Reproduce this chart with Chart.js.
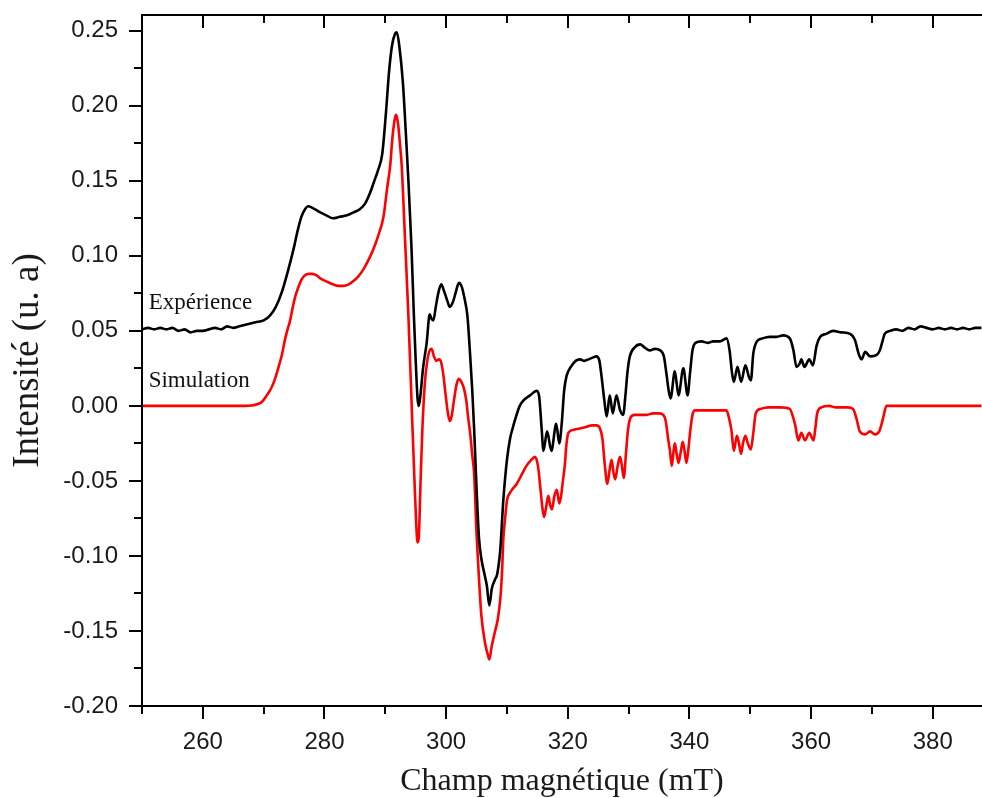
<!DOCTYPE html>
<html><head><meta charset="utf-8">
<script src="https://cdn.jsdelivr.net/npm/chart.js@4.4.0/dist/chart.umd.min.js"></script>
<style>html,body{margin:0;padding:0;background:#fff;overflow:hidden}canvas{display:block}</style>
</head><body>
<canvas id="c" width="982" height="798" style="width:982px;height:798px"></canvas>
<script>
// ---- Data ----
const expField = [250.0,251.0,252.0,253.0,254.0,255.0,256.0,257.0,258.0,259.0,260.0,261.0,262.0,263.0,264.0,265.0,266.0,267.0,268.0,269.0,270.0,271.0,272.0,273.0,274.0,275.0,275.6,276.2,276.8,277.3,278.0,279.3,280.3,281.4,282.5,283.7,284.8,285.8,286.7,287.5,288.2,288.8,289.5,290.1,290.6,291.1,291.6,291.9,292.3,292.9,293.4,293.8,294.3,294.7,295.0,295.3,295.5,295.8,296.2,296.8,297.3,297.6,297.9,298.3,298.7,299.2,299.7,300.2,300.6,301.1,301.6,302.1,302.6,303.0,303.5,303.9,304.3,304.6,305.0,305.4,305.8,306.3,306.7,307.1,307.5,308.0,308.4,308.9,309.4,310.0,310.5,311.0,311.5,312.1,312.8,313.8,314.9,315.3,315.7,316.0,316.6,317.3,318.1,318.6,319.0,319.4,319.8,320.5,321.3,322.0,322.7,323.4,324.0,324.7,325.2,325.6,326.0,326.4,326.9,327.4,328.0,328.6,329.1,329.5,329.8,330.2,331.0,331.9,332.6,333.5,334.3,335.2,335.8,336.2,336.6,336.9,337.6,338.2,339.0,339.7,340.1,340.5,341.0,342.0,343.0,343.9,345.0,346.1,346.6,347.0,347.3,347.9,348.5,349.2,349.8,350.1,350.5,351.1,352.0,353.2,354.3,355.4,356.5,357.1,357.6,358.1,358.4,358.9,359.7,360.3,360.9,361.5,362.5,363.6,365.0,366.4,367.2,367.8,368.3,368.9,369.7,370.8,371.3,371.8,372.1,373.0,374.0,375.0,376.0,377.0,378.0,379.0,380.0,381.0,382.0,383.0,384.0,385.0,386.0,387.0,388.0];
const expIntensity = [0.051,0.052,0.051,0.052,0.051,0.052,0.050,0.051,0.049,0.050,0.050,0.051,0.052,0.051,0.053,0.052,0.053,0.054,0.055,0.056,0.057,0.060,0.066,0.076,0.090,0.106,0.117,0.126,0.131,0.133,0.132,0.129,0.127,0.125,0.126,0.127,0.129,0.131,0.135,0.142,0.150,0.157,0.168,0.195,0.222,0.240,0.248,0.249,0.240,0.215,0.180,0.150,0.106,0.060,0.030,0.005,0.000,0.008,0.025,0.042,0.061,0.058,0.057,0.066,0.075,0.081,0.076,0.070,0.066,0.069,0.076,0.082,0.079,0.072,0.060,0.037,0.010,-0.015,-0.055,-0.088,-0.102,-0.112,-0.120,-0.133,-0.122,-0.116,-0.112,-0.096,-0.063,-0.036,-0.022,-0.014,-0.007,0.000,0.004,0.007,0.010,0.006,-0.015,-0.030,-0.017,-0.030,-0.012,-0.025,-0.012,0.010,0.020,0.026,0.030,0.031,0.030,0.031,0.032,0.033,0.030,0.018,0.004,-0.007,0.007,-0.005,0.007,-0.003,-0.006,0.008,0.022,0.033,0.039,0.041,0.039,0.037,0.038,0.037,0.033,0.022,0.010,0.005,0.023,0.007,0.025,0.007,0.022,0.037,0.042,0.043,0.042,0.043,0.043,0.045,0.037,0.022,0.016,0.026,0.016,0.027,0.019,0.017,0.035,0.043,0.045,0.046,0.046,0.047,0.045,0.037,0.026,0.028,0.031,0.026,0.031,0.027,0.040,0.046,0.048,0.050,0.049,0.048,0.044,0.035,0.031,0.036,0.033,0.034,0.037,0.044,0.048,0.050,0.051,0.050,0.052,0.051,0.053,0.052,0.051,0.052,0.051,0.052,0.051,0.052,0.051,0.052,0.052];

const simField = [250,252,254,256,258,260,262,264,266,267,268,268.8,269.5,270.0,270.5,271.0,271.6,272.1,272.6,273.0,273.5,274.0,274.3,274.8,275.2,275.7,276.2,276.8,277.4,278.0,278.7,279.3,280.3,281.4,282.3,283.1,284.0,284.7,285.5,286.4,287.2,288.0,288.8,289.7,290.3,290.8,291.2,291.6,291.8,292.1,292.4,292.7,293.2,293.8,294.4,294.8,295.1,295.3,295.5,295.8,296.1,296.5,296.9,297.3,297.6,298.0,298.4,298.8,299.1,299.5,299.9,300.3,300.6,300.9,301.3,301.7,302.1,302.5,302.9,303.3,303.6,304.0,304.3,304.6,305.0,305.4,305.8,306.4,307.0,307.1,307.5,308.0,308.5,308.9,309.2,309.4,309.7,310.0,310.5,311.0,311.6,312.4,313.2,314.0,314.6,315.1,315.5,315.8,316.1,316.5,316.8,317.1,317.4,317.8,318.2,318.6,318.9,319.2,319.5,319.8,320.1,320.9,322.0,323.0,324.0,324.7,325.3,325.7,326.1,326.5,326.9,327.2,327.5,327.8,328.2,328.6,328.9,329.2,329.6,329.9,330.3,331.0,331.9,333.0,334.0,335.0,335.7,336.1,336.5,336.8,337.1,337.4,337.6,337.9,338.2,338.6,338.9,339.2,339.5,339.8,340.1,340.5,340.9,342.0,343.0,344.0,345.0,346.1,346.5,346.9,347.3,347.8,348.1,348.5,348.8,349.2,349.6,350.1,350.5,350.9,351.7,353.0,354.0,355.0,356.5,357.0,357.4,357.9,358.4,359.0,359.7,360.4,360.7,361.0,361.7,363.0,364.0,365.0,366.0,366.9,367.5,368.0,368.9,369.7,370.5,371.2,371.6,371.9,372.4,374,376,378,380,382,384,386,388];
const simIntensity = [0,0,0,0,0,0,0,0,0,0,0.0003,0.001,0.002,0.004,0.007,0.010,0.015,0.021,0.028,0.034,0.044,0.052,0.056,0.066,0.073,0.079,0.084,0.087,0.088,0.088,0.087,0.085,0.083,0.081,0.080,0.080,0.081,0.083,0.086,0.091,0.097,0.104,0.113,0.126,0.145,0.160,0.180,0.192,0.194,0.188,0.175,0.160,0.115,0.060,-0.007,-0.050,-0.080,-0.091,-0.088,-0.050,-0.015,0.015,0.030,0.037,0.038,0.033,0.030,0.031,0.030,0.022,0.008,-0.005,-0.010,-0.007,0.004,0.014,0.018,0.016,0.012,0.004,-0.007,-0.020,-0.033,-0.045,-0.085,-0.115,-0.140,-0.158,-0.168,-0.169,-0.160,-0.151,-0.142,-0.129,-0.110,-0.089,-0.075,-0.063,-0.058,-0.055,-0.052,-0.046,-0.040,-0.036,-0.034,-0.040,-0.055,-0.067,-0.074,-0.066,-0.060,-0.066,-0.069,-0.060,-0.056,-0.065,-0.060,-0.050,-0.040,-0.025,-0.018,-0.016,-0.015,-0.014,-0.013,-0.013,-0.015,-0.022,-0.040,-0.052,-0.042,-0.036,-0.044,-0.049,-0.040,-0.034,-0.040,-0.048,-0.030,-0.016,-0.008,-0.006,-0.006,-0.006,-0.005,-0.005,-0.006,-0.010,-0.022,-0.030,-0.040,-0.030,-0.025,-0.032,-0.038,-0.030,-0.024,-0.030,-0.038,-0.030,-0.018,-0.006,-0.003,-0.003,-0.003,-0.003,-0.003,-0.003,-0.008,-0.016,-0.030,-0.020,-0.024,-0.032,-0.025,-0.020,-0.025,-0.029,-0.018,-0.005,-0.002,-0.001,-0.001,-0.001,-0.002,-0.007,-0.013,-0.023,-0.018,-0.023,-0.018,-0.023,-0.015,-0.005,-0.001,0.000,-0.001,-0.001,-0.001,-0.002,-0.009,-0.017,-0.019,-0.017,-0.019,-0.017,-0.012,-0.007,0.000,0,0,0,0,0,0,0,0];

const xTickValues = [260,280,300,320,340,360,380];
const yTickValues = [-0.20,-0.15,-0.10,-0.05,0.00,0.05,0.10,0.15,0.20,0.25];
const seriesNames = ['Expérience','Simulation'];
const seriesColors = ['#000000','#ff0000'];
const labelAnchorField = [251.1, 251.1];
const labelAnchorIntensity = [0.0645, 0.0127];
const xTitle = 'Champ magnétique (mT)';
const yTitle = 'Intensité (u. a)';

const toPoints = (xs, ys) => xs.map((x, i) => ({x: x, y: ys[i]}));

const frame = {
  id: 'frame',
  afterDraw(chart) {
    const ctx = chart.ctx, a = chart.chartArea;
    const xs = chart.scales.x, ys = chart.scales.y;
    ctx.save();
    ctx.strokeStyle = '#000';
    ctx.lineWidth = 2;
    ctx.lineCap = 'butt';
    ctx.beginPath();
    ctx.moveTo(a.left, a.top); ctx.lineTo(a.left, a.bottom + 1);
    ctx.moveTo(a.left - 1, a.bottom); ctx.lineTo(a.right, a.bottom);
    ctx.moveTo(a.left - 1, a.top); ctx.lineTo(a.right, a.top);
    ctx.stroke();
    const xMinor = [];
    for (let i = 0; i < xTickValues.length; i++) xMinor.push(xTickValues[i] - 10);
    xMinor.push(xTickValues[xTickValues.length - 1] + 10);
    ctx.beginPath();
    xTickValues.forEach(v => {
      const p = Math.round(xs.getPixelForValue(v));
      ctx.moveTo(p, a.bottom); ctx.lineTo(p, a.bottom + 13);
      ctx.moveTo(p, a.top); ctx.lineTo(p, a.top + 13);
    });
    xMinor.forEach(v => {
      if (v < xs.min || v > xs.max) return;
      const p = Math.round(xs.getPixelForValue(v));
      ctx.moveTo(p, a.bottom); ctx.lineTo(p, a.bottom + 8);
      ctx.moveTo(p, a.top); ctx.lineTo(p, a.top + 8);
    });
    yTickValues.forEach(v => {
      const p = Math.round(ys.getPixelForValue(v));
      ctx.moveTo(a.left, p); ctx.lineTo(a.left - 13, p);
    });
    for (let i = 0; i < yTickValues.length; i++) {
      const v = yTickValues[i] + 0.025;
      if (v > ys.max) continue;
      const p = Math.round(ys.getPixelForValue(v));
      ctx.moveTo(a.left, p); ctx.lineTo(a.left - 8, p);
    }
    ctx.stroke();
    ctx.fillStyle = '#111';
    ctx.font = '23px "Liberation Serif", "Times New Roman", serif';
    ctx.textAlign = 'left';
    ctx.textBaseline = 'alphabetic';
    seriesNames.forEach((n, i) => {
      ctx.fillText(n, xs.getPixelForValue(labelAnchorField[i]), ys.getPixelForValue(labelAnchorIntensity[i]));
    });
    ctx.restore();
  }
};

new Chart(document.getElementById('c'), {
  type: 'line',
  data: {
    datasets: [
      {label: seriesNames[0], data: toPoints(expField, expIntensity), borderColor: seriesColors[0], borderWidth: 2.6, pointRadius: 0, cubicInterpolationMode: 'monotone', fill: false},
      {label: seriesNames[1], data: toPoints(simField, simIntensity), borderColor: seriesColors[1], borderWidth: 2.6, pointRadius: 0, cubicInterpolationMode: 'monotone', fill: false}
    ]
  },
  options: {
    responsive: false,
    animation: false,
    devicePixelRatio: 1,
    layout: {padding: {left: 0, right: 0, top: 15, bottom: 0}},
    plugins: {legend: {display: false}, tooltip: {enabled: false}},
    scales: {
      x: {
        type: 'linear', position: 'bottom', min: 250, max: 388.1,
        afterBuildTicks: s => { s.ticks = xTickValues.map(v => ({value: v})); },
        afterFit: s => { s.height = 92; s.paddingLeft = 0; s.paddingRight = 0; },
        grid: {display: false, drawTicks: false},
        border: {display: false},
        ticks: {padding: 22, color: '#1a1a1a', maxRotation: 0, autoSkip: false,
          font: {family: '"Liberation Sans", Arial, sans-serif', size: 24},
          callback: v => String(v)},
        title: {display: true, text: xTitle, color: '#1a1a1a', padding: {top: 0, bottom: 0},
          font: {family: '"Liberation Serif", "Times New Roman", serif', size: 32, lineHeight: 1}}
      },
      y: {
        type: 'linear', position: 'left', min: -0.20, max: 0.2605,
        afterBuildTicks: s => { s.ticks = yTickValues.map(v => ({value: v})); },
        afterFit: s => { s.width = 142; s.paddingTop = 0; s.paddingBottom = 0; },
        grid: {display: false, drawTicks: false},
        border: {display: false},
        ticks: {padding: 24, color: '#1a1a1a', autoSkip: false,
          font: {family: '"Liberation Sans", Arial, sans-serif', size: 24},
          callback: v => Number(v).toFixed(2)},
        title: {display: true, text: yTitle, color: '#1a1a1a', padding: {top: 10, bottom: 0},
          font: {family: '"Liberation Serif", "Times New Roman", serif', size: 37, lineHeight: 1}}
      }
    }
  },
  plugins: [frame]
});
</script>
</body></html>
